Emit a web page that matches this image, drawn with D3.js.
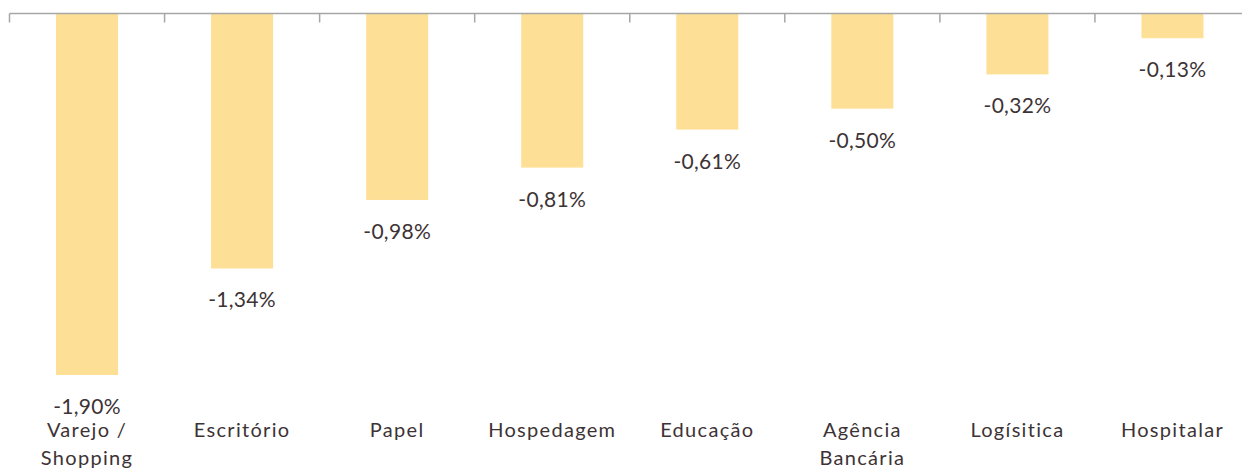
<!DOCTYPE html>
<html>
<head>
<meta charset="utf-8">
<script src="https://cdn.jsdelivr.net/npm/d3@7"></script>
<style>
  body { margin: 0; background: #fff; }
  text { font-family: Lato, "Open Sans", sans-serif; fill: #3d3335; }
</style>
</head>
<body>
<script>
// chart data
var categories = ["Varejo / Shopping", "Escritório", "Papel", "Hospedagem", "Educação", "Agência Bancária", "Logísitica", "Hospitalar"];
var labelLines = [["Varejo /", "Shopping"], ["Escritório"], ["Papel"], ["Hospedagem"], ["Educação"], ["Agência", "Bancária"], ["Logísitica"], ["Hospitalar"]];
var values = [-1.90, -1.34, -0.98, -0.81, -0.61, -0.50, -0.32, -0.13];

var width = 1242, height = 472;

var svg = d3.select("body").append("svg")
    .attr("width", width)
    .attr("height", height);

// x scale (bands) and y scale
var x = d3.scaleBand()
    .domain(categories)
    .range([9.5, 1250])
    .paddingInner(0.6)
    .paddingOuter(0.3);

var y = d3.scaleLinear()
    .domain([0, -1.9])
    .range([13.5, 375]);

var step = x.step();
var gap = (step - x.bandwidth()) / 2;

// bars
svg.selectAll("rect.bar")
    .data(values)
    .enter()
    .append("rect")
    .attr("class", "bar")
    .attr("x", function(d, i) { return x(categories[i]); })
    .attr("y", y(0))
    .attr("width", x.bandwidth())
    .attr("height", function(d) { return y(d) - y(0); })
    .attr("fill", "#fddf96");

// axis line on top with ticks between categories
svg.append("line")
    .attr("x1", 9.5)
    .attr("x2", width)
    .attr("y1", y(0))
    .attr("y2", y(0))
    .attr("stroke", "#a6a6a6")
    .attr("stroke-width", 1.5);

var edges = categories.map(function(c) { return x(c) - gap; });
edges.push(x(categories[categories.length - 1]) + x.bandwidth() + gap);

svg.selectAll("line.tick")
    .data(edges)
    .enter()
    .append("line")
    .attr("class", "tick")
    .attr("x1", function(d) { return d; })
    .attr("x2", function(d) { return d; })
    .attr("y1", y(0))
    .attr("y2", y(0) + 9)
    .attr("stroke", "#a6a6a6")
    .attr("stroke-width", 1.5);

// value labels below the bars
svg.selectAll("text.value")
    .data(values)
    .enter()
    .append("text")
    .attr("class", "value")
    .attr("x", function(d, i) { return x(categories[i]) + x.bandwidth() / 2; })
    .attr("y", function(d) { return y(d) + 39; })
    .attr("text-anchor", "middle")
    .style("font-size", "21px")
    .style("letter-spacing", "0.3px")
    .text(function(d) { return d.toFixed(2).replace(".", ",") + "%"; });

// category labels at the bottom
var cat = svg.selectAll("text.cat")
    .data(labelLines)
    .enter()
    .append("text")
    .attr("class", "cat")
    .attr("text-anchor", "middle")
    .style("font-size", "20px")
    .style("letter-spacing", "1.3px");

cat.selectAll("tspan")
    .data(function(d, i) { return d.map(function(t) { return {t: t, i: i}; }); })
    .enter()
    .append("tspan")
    .attr("x", function(d) { return x(categories[d.i]) + x.bandwidth() / 2; })
    .attr("y", function(d, j) { return 437 + j * 28; })
    .text(function(d) { return d.t; });
</script>
</body>
</html>
